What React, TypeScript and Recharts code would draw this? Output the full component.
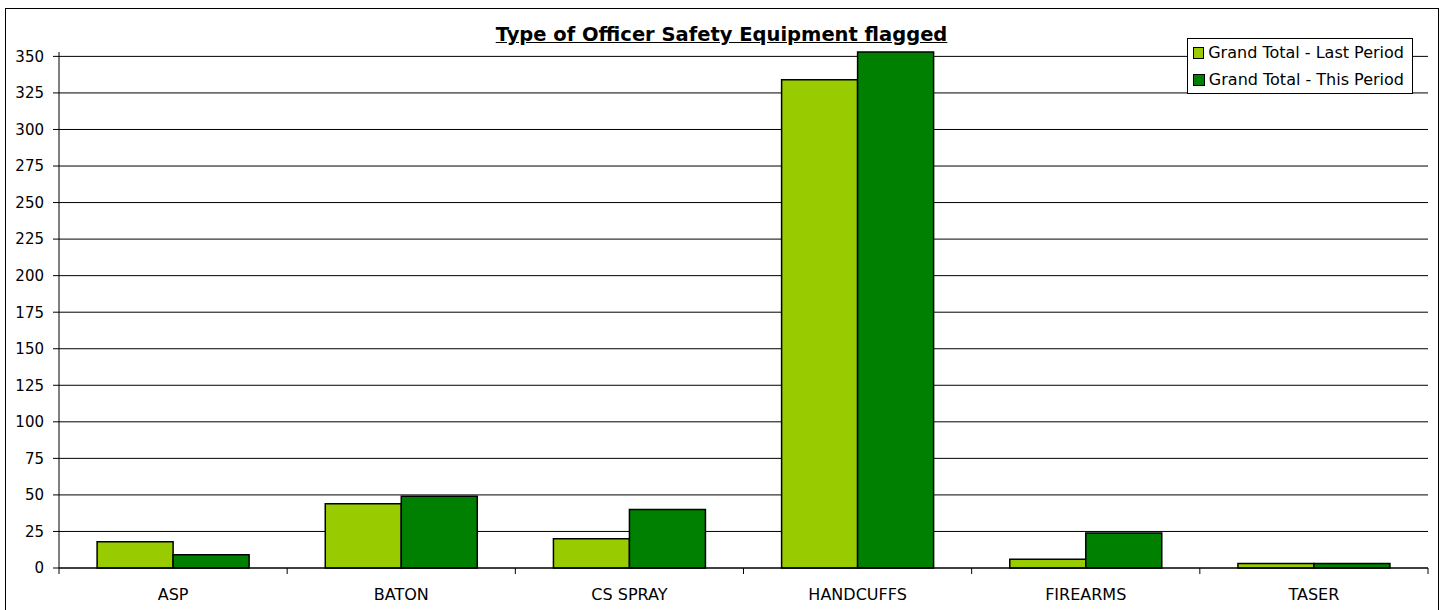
import React from 'react';
import {
  BarChart,
  Bar,
  XAxis,
  YAxis,
  CartesianGrid,
  Legend
} from 'recharts';

const categories = ['ASP', 'BATON', 'CS SPRAY', 'HANDCUFFS', 'FIREARMS', 'TASER'];
const lastPeriod = [18, 44, 20, 334, 6, 3];
const thisPeriod = [9, 49, 40, 353, 24, 3];
const yTicks = [0, 25, 50, 75, 100, 125, 150, 175, 200, 225, 250, 275, 300, 325, 350];
const Y_MAX = 353;

const SERIES = [
  { key: 'Grand Total - Last Period', color: '#99CC00' },
  { key: 'Grand Total - This Period', color: '#008000' }
];

const FONT = '"DejaVu Sans", Verdana, sans-serif';

const W = 1445;
const H = 610;
const MARGIN = { top: 52, right: 17, left: 9, bottom: 12 };
const Y_AXIS_W = 50;
const PLOT_LEFT = MARGIN.left + Y_AXIS_W;
const PLOT_RIGHT = W - MARGIN.right;
const BAND = (PLOT_RIGHT - PLOT_LEFT) / categories.length;

const chartData = categories.map((c, i) => ({
  name: c,
  [SERIES[0].key]: lastPeriod[i],
  [SERIES[1].key]: thisPeriod[i]
}));

// grid only at the labelled ticks, not at the top edge of the plot
const gridYs = ({ yAxis, offset }: any) =>
  yTicks.map((t) => {
    const sc = yAxis && yAxis.scale;
    if (typeof sc === 'function') return sc(t);
    if (sc && typeof sc.map === 'function') return sc.map(t);
    return offset.top + offset.height * (1 - t / Y_MAX);
  });

// category label in the middle, tick marks on the band edges (Excel style)
// y here is axis line + tickSize(6) + tickMargin(2)
const XTick = (props: any) => {
  const { x, y, payload, index } = props;
  const left = x - BAND / 2;
  const ty = y - 8;
  return (
    <g>
      <line x1={left} y1={ty} x2={left} y2={ty + 6} stroke="#000" />
      {index === categories.length - 1 && (
        <line x1={x + BAND / 2} y1={ty} x2={x + BAND / 2} y2={ty + 6} stroke="#000" />
      )}
      <text x={x} y={y + 24} textAnchor="middle" fill="#000" fontSize={16} fontFamily={FONT}>
        {payload.value}
      </text>
    </g>
  );
};

const LegendBox = () => (
  <div
    style={{
      border: '1px solid #000',
      background: '#fff',
      padding: '0 8px 0 5px',
      fontFamily: FONT,
      fontSize: 16,
      color: '#000',
      boxSizing: 'border-box'
    }}
  >
    {SERIES.map((s) => (
      <div key={s.key} style={{ display: 'flex', alignItems: 'center', height: 27 }}>
        <span
          style={{
            display: 'inline-block',
            width: 10,
            height: 10,
            background: s.color,
            border: '1px solid #000',
            marginRight: 4
          }}
        />
        <span style={{ whiteSpace: 'nowrap' }}>{s.key}</span>
      </div>
    ))}
  </div>
);

export default function App() {
  return (
    <div style={{ position: 'absolute', left: 0, top: 0, width: W, height: H, background: '#fff', overflow: 'hidden' }}>
      <div
        style={{
          position: 'absolute',
          left: 5,
          top: 8,
          width: 1434,
          height: 640,
          border: '1px solid #000',
          boxSizing: 'border-box'
        }}
      />
      <div
        style={{
          position: 'absolute',
          left: 5,
          width: 1433,
          top: 23,
          textAlign: 'center',
          fontFamily: FONT,
          fontWeight: 'bold',
          fontSize: 19.5,
          lineHeight: 'normal',
          textDecoration: 'underline',
          color: '#000'
        }}
      >
        Type of Officer Safety Equipment flagged
      </div>
      <div style={{ position: 'absolute', left: 0, top: 0 }}>
        <BarChart
          width={W}
          height={H}
          data={chartData}
          margin={MARGIN}
          barCategoryGap="16.7%"
          barGap={0}
        >
          <CartesianGrid
            horizontal
            vertical={false}
            stroke="#000"
            horizontalCoordinatesGenerator={gridYs}
          />
          <XAxis
            dataKey="name"
            height={30}
            axisLine={{ stroke: '#000' }}
            tickLine={false}
            tick={<XTick />}
            interval={0}
          />
          <YAxis
            width={Y_AXIS_W}
            domain={[0, Y_MAX]}
            ticks={yTicks}
            interval={0}
            axisLine={{ stroke: '#000' }}
            tickLine={{ stroke: '#000' }}
            tickSize={6}
            tickMargin={9}
            tick={{ fill: '#000', fontSize: 15, fontFamily: FONT }}
          />
          <Legend
            layout="vertical"
            align="center"
            verticalAlign="middle"
            content={<LegendBox />}
            wrapperStyle={{ left: 1187, top: 38, width: 226 }}
          />
          {SERIES.map((s) => (
            <Bar
              key={s.key}
              dataKey={s.key}
              fill={s.color}
              stroke="#000"
              strokeWidth={1.5}
              isAnimationActive={false}
            />
          ))}
        </BarChart>
      </div>
    </div>
  );
}
